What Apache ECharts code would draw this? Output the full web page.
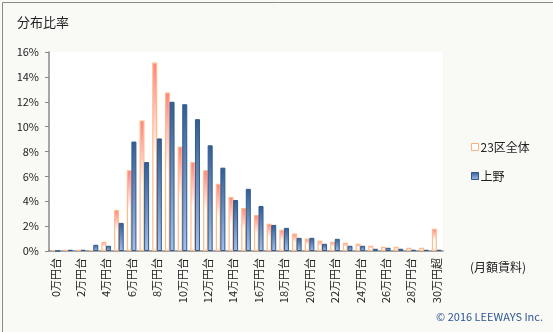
<!DOCTYPE html>
<html><head><meta charset="utf-8">
<script src="https://cdn.jsdelivr.net/npm/echarts@6/dist/echarts.min.js"></script>
<style>html,body{margin:0;padding:0;background:#f9faf5;}#c{width:553px;height:332px;}</style>
</head><body><div id="c"></div>
<script>
const categories = ['0万円台','1万円台','2万円台','3万円台','4万円台','5万円台','6万円台','7万円台','8万円台','9万円台','10万円台','11万円台','12万円台','13万円台','14万円台','15万円台','16万円台','17万円台','18万円台','19万円台','20万円台','21万円台','22万円台','23万円台','24万円台','25万円台','26万円台','27万円台','28万円台','29万円台','30万円超'];
const ward23 = [0.08,0.1,0.1,0.08,0.74,3.3,6.5,10.5,15.15,12.75,8.4,7.15,6.5,5.4,4.35,3.45,2.9,2.2,1.7,1.4,1.0,0.82,0.74,0.66,0.58,0.42,0.34,0.34,0.26,0.26,1.78];
const ueno = [0,0.1,0.1,0.5,0.42,2.26,8.8,7.15,9.05,12.0,11.8,10.6,8.5,6.7,4.1,5.0,3.62,2.1,1.86,1.06,1.06,0.58,0.98,0.42,0.42,0.18,0.26,0.18,0.1,0.1,0.1];
const yTicks = [0,2,4,6,8,10,12,14,16];

const chart = echarts.init(document.getElementById('c'), null, {renderer:'canvas'});
const FONT = '"Noto Sans CJK JP", "Noto Sans", sans-serif';
const orangeFill = {type:'linear',x:0,y:0,x2:0,y2:1,colorStops:[{offset:0,color:'#ff8080'},{offset:0.5,color:'#ffffff'},{offset:1,color:'#ffffff'}]};
const blueFill = {type:'linear',x:0,y:0,x2:0,y2:1,colorStops:[{offset:0,color:'#345d94'},{offset:1,color:'#a6bfe6'}]};
chart.setOption({
  backgroundColor:'#f9faf5',
  animation:false,
  textStyle:{fontFamily:FONT},
  title:{text:'分布比率',left:12,top:11,textStyle:{fontSize:13,fontWeight:'normal',color:'#222',fontFamily:FONT}},
  grid:{left:49,right:110,top:52,bottom:81,show:true,backgroundColor:'#ffffff',borderWidth:0},
  legend:{orient:'vertical',left:466,top:136,itemWidth:7,itemHeight:7,itemGap:17,icon:'rect',
    textStyle:{fontSize:12,color:'#222',fontFamily:FONT,padding:[0,0,0,-3]},
    data:[{name:'23区全体',itemStyle:{color:'#ffffff',borderColor:'#ffb27a',borderWidth:1}},
          {name:'上野',itemStyle:{color:blueFill,borderColor:'#2f5a8e',borderWidth:1}}]},
  xAxis:{type:'category',data:categories,boundaryGap:true,
    axisLine:{lineStyle:{color:'#888',width:1.5}},
    axisTick:{interval:1,length:5,lineStyle:{color:'#888',width:1.5}},
    axisLabel:{interval:1,rotate:90,fontSize:11,color:'#222',margin:7,fontFamily:FONT}},
  yAxis:{type:'value',min:0,max:16,interval:2,
    axisLine:{show:true,lineStyle:{color:'#888',width:1.5}},
    axisTick:{show:true,length:4,lineStyle:{color:'#888',width:1}},
    splitLine:{show:false},
    axisLabel:{formatter:v=>v+'%',fontSize:11,color:'#222',margin:10,fontFamily:FONT}},
  series:[
    {name:'23区全体',type:'bar',data:ward23,barWidth:5,barGap:'-8%',
      itemStyle:{color:orangeFill,borderColor:'#ffbb88',borderWidth:1.2}},
    {name:'上野',type:'bar',data:ueno,barWidth:5,
      itemStyle:{color:blueFill,borderColor:'#2f5a8e',borderWidth:1}}
  ],
  graphic:[
    {type:'text',left:470,top:261,style:{text:'(月額賃料)',fontSize:12,fill:'#222',fontFamily:FONT}},
    {type:'text',right:10,top:311,style:{text:'© 2016 LEEWAYS Inc.',fontSize:11,fill:'#2f5597',fontFamily:FONT}},
    {type:'rect',left:0,top:0,shape:{x:0.5,y:0.5,width:552,height:331},style:{fill:'none',stroke:'#8a8a8a',lineWidth:1},silent:true}
  ]
});
</script></body></html>
